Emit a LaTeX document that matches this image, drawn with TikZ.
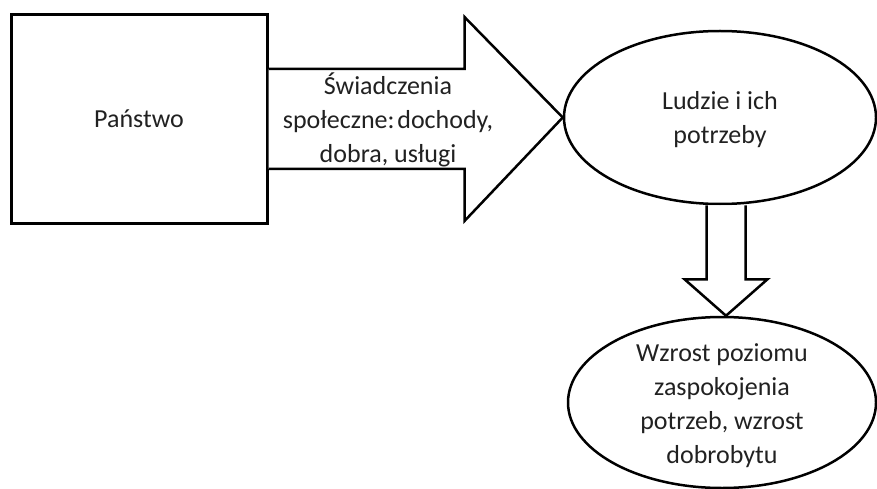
\documentclass[tikz,border=0pt]{standalone}
\usepackage{fontspec}
\setmainfont{Carlito}
\usetikzlibrary{shapes.geometric,calc}
\definecolor{ink}{gray}{0.13}
\frenchspacing
\begin{document}
\begin{tikzpicture}[x=1pt,y=-1pt,
  every node/.style={font=\fontsize{26}{34}\selectfont, text=ink, align=center},
  boxnode/.style={draw=black, line width=3pt, minimum width=256pt, minimum height=208pt, inner sep=0pt},
  ovalnode/.style={draw=black, line width=2.5pt, ellipse, inner sep=0pt},
  blockarrow/.style={draw=black, line width=2.5pt, line join=miter, fill=white}]
\useasboundingbox (0,0) rectangle (877,489);

% nodes
\node[boxnode] (panstwo) at (139,119) {Państwo};
\node[ovalnode, minimum width=312pt, minimum height=173pt] (ludzie) at (720,117.5) {};
\node[ovalnode, minimum width=308pt, minimum height=171pt] (wzrost) at (722,402.5) {};

% horizontal block arrow from the state to people
\coordinate (hs) at (panstwo.east);
\coordinate (ht) at (ludzie.west);
\draw[blockarrow]
  ($(hs)+(0,-50)$) -- ($(hs)+(196,-50)$) -- ($(hs)+(196,-102)$) -- (ht)
  -- ($(hs)+(196,102)$) -- ($(hs)+(196,50)$) -- ($(hs)+(0,50)$);
\node (swiad) at (388,120) {Świadczenia\\społeczne:\hspace{-0.12em} dochody,\\dobra, usługi};

% vertical block arrow from people to welfare growth
\coordinate (vs) at ($(ludzie.south)+(6,0)$);
\coordinate (vt) at (wzrost.north);
\draw[blockarrow]
  ($(vs)+(-19.5,0)$) -- ($(vs)+(-19.5,74)$) -- ($(vs)+(-41.5,74)$) -- ($(vt)+(4,0)$)
  -- ($(vs)+(41.5,74)$) -- ($(vs)+(19.5,74)$) -- ($(vs)+(19.5,0)$);

% texts of the ovals
\node at (720,120) {Ludzie i ich\\potrzeby};
\node at (722,406) {Wzrost poziomu\\zaspokojenia\\potrzeb, wzrost\\dobrobytu};
\end{tikzpicture}
\end{document}
